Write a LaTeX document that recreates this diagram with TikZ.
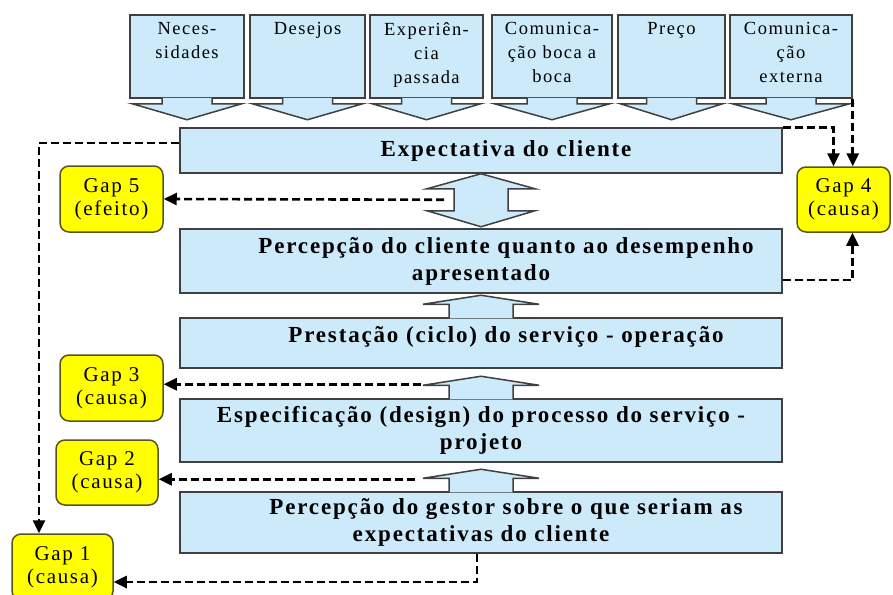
\documentclass[tikz,border=0pt]{standalone}
\usepackage{fontspec}
\setmainfont{Liberation Serif}[LetterSpace=8]
\usepackage{tikz}
\usetikzlibrary{shapes}
\usetikzlibrary{arrows.meta}
\usetikzlibrary{positioning}
\usetikzlibrary{calc}
\definecolor{bleu}{RGB}{204,234,250}
\definecolor{gris}{RGB}{64,64,64}
\definecolor{jaune}{RGB}{255,255,0}
\definecolor{brun}{RGB}{90,84,30}
\tikzstyle{attente}=[
        rectangle,
        draw=gris,
        fill=bleu,
        line width=1.5pt,
        minimum height=83pt,
        inner sep=0pt
]
\tikzstyle{titre}=[anchor=north,align=center,inner sep=0pt,yshift=-8pt,font=\fontsize{18.5}{24}\selectfont]
\tikzstyle{etape}=[rectangle,draw=gris,fill=bleu,line width=1.5pt,minimum width=602pt,align=center,font=\fontsize{23}{27}\selectfont\bfseries]
\tikzstyle{ecart}=[rectangle,rounded corners=9pt,draw=brun,fill=jaune,line width=1.5pt,align=center,inner sep=0pt,font=\fontsize{21}{23}\selectfont]
\tikzstyle{fleche}=[draw=gris,fill=bleu,line width=1.5pt]
\tikzstyle{pointille}=[-{Triangle[length=13pt,width=12pt]},line width=2.6pt,dash pattern=on 8pt off 4pt]
\begin{document}
\begin{tikzpicture}[x=1pt,y=-1pt]
\path[fill=white,use as bounding box] (0,0) rectangle (893,594);
\clip (0,0) rectangle (893,594);
%Entrees
\node[attente,minimum width=114pt,label={[titre]north:{Neces-\\sidades}}] (t1) at (187,56.5) {};
\node[attente,minimum width=115pt,label={[titre]north:{Desejos}}] (t2) at (307.5,56.5) {};
\node[attente,minimum width=113pt,label={[titre]north:{Experiên-\\cia\\passada}}] (t3) at (426.5,56.5) {};
\node[attente,minimum width=120pt,label={[titre]north:{Comunica-\\ção boca a\\boca}}] (t4) at (552,56.5) {};
\node[attente,minimum width=107pt,label={[titre]north:{Preço}}] (t5) at (671.5,56.5) {};
\node[attente,minimum width=122pt,label={[titre]north:{Comunica-\\ção\\externa}}] (t6) at (791,56.5) {};
\filldraw[fleche] ([xshift=-25pt,yshift=1pt]t1.south) -- ([xshift=-25pt,yshift=-5pt]t1.south) -- ([xshift=3pt,yshift=-5pt]t1.south west) -- ([yshift=-21pt]t1.south) -- ([xshift=-3pt,yshift=-5pt]t1.south east) -- ([xshift=25pt,yshift=-5pt]t1.south) -- ([xshift=25pt,yshift=1pt]t1.south);
\filldraw[fleche] ([xshift=-25pt,yshift=1pt]t2.south) -- ([xshift=-25pt,yshift=-5pt]t2.south) -- ([xshift=3pt,yshift=-5pt]t2.south west) -- ([yshift=-21pt]t2.south) -- ([xshift=-3pt,yshift=-5pt]t2.south east) -- ([xshift=25pt,yshift=-5pt]t2.south) -- ([xshift=25pt,yshift=1pt]t2.south);
\filldraw[fleche] ([xshift=-25pt,yshift=1pt]t3.south) -- ([xshift=-25pt,yshift=-5pt]t3.south) -- ([xshift=3pt,yshift=-5pt]t3.south west) -- ([yshift=-21pt]t3.south) -- ([xshift=-3pt,yshift=-5pt]t3.south east) -- ([xshift=25pt,yshift=-5pt]t3.south) -- ([xshift=25pt,yshift=1pt]t3.south);
\filldraw[fleche] ([xshift=-25pt,yshift=1pt]t4.south) -- ([xshift=-25pt,yshift=-5pt]t4.south) -- ([xshift=3pt,yshift=-5pt]t4.south west) -- ([yshift=-21pt]t4.south) -- ([xshift=-3pt,yshift=-5pt]t4.south east) -- ([xshift=25pt,yshift=-5pt]t4.south) -- ([xshift=25pt,yshift=1pt]t4.south);
\filldraw[fleche] ([xshift=-25pt,yshift=1pt]t5.south) -- ([xshift=-25pt,yshift=-5pt]t5.south) -- ([xshift=3pt,yshift=-5pt]t5.south west) -- ([yshift=-21pt]t5.south) -- ([xshift=-3pt,yshift=-5pt]t5.south east) -- ([xshift=25pt,yshift=-5pt]t5.south) -- ([xshift=25pt,yshift=1pt]t5.south);
\filldraw[fleche] ([xshift=-25pt,yshift=1pt]t6.south) -- ([xshift=-25pt,yshift=-5pt]t6.south) -- ([xshift=3pt,yshift=-5pt]t6.south west) -- ([yshift=-21pt]t6.south) -- ([xshift=-3pt,yshift=-5pt]t6.south east) -- ([xshift=25pt,yshift=-5pt]t6.south) -- ([xshift=25pt,yshift=1pt]t6.south);
%Etapes
\node[etape,minimum height=45pt] (E) at (481,150.5) {\hspace*{50pt}Expectativa do cliente};
\node[etape,minimum height=64pt] (P) at (481,261) {\hspace*{50pt}Percepção do cliente quanto ao desempenho\\apresentado};
\node[etape,minimum height=50pt,text depth=17pt] (R) at (481,343) {\hspace*{50pt}Prestação (ciclo) do serviço - operação};
\node[etape,minimum height=63pt] (S) at (481,430.5) {Especificação (design) do processo do serviço -\\projeto};
\node[etape,minimum height=61pt] (G) at (481,522.5) {\hspace*{50pt}Percepção do gestor sobre o que seriam as\\expectativas do cliente};
\filldraw[fleche] (E.south) -- ++(54,15) -- ++(-27,0) -- ++(0,22) -- ++(27,0) -- ++(-54,16) -- ++(-54,-16) -- ++(27,0) -- ++(0,-22) -- ++(-27,0) -- cycle;
\filldraw[fleche] ([xshift=-32pt,yshift=-1pt]R.north) -- ++(0,-14) -- ++(-26,0) -- ++(58,-9) -- ++(58,9) -- ++(-26,0) -- ++(0,14);
\filldraw[fleche] ([xshift=-32pt,yshift=-1pt]S.north) -- ++(0,-14) -- ++(-26,0) -- ++(58,-9) -- ++(58,9) -- ++(-26,0) -- ++(0,14);
\filldraw[fleche] ([xshift=-32pt,yshift=-1pt]G.north) -- ++(0,-14) -- ++(-26,0) -- ++(58,-9) -- ++(58,9) -- ++(-26,0) -- ++(0,14);
%Gaps
\node[ecart,minimum width=103pt,minimum height=66pt] (g5) at (111.5,199) {Gap 5\\(efeito)};
\node[ecart,minimum width=93pt,minimum height=65pt] (g4) at (843.5,199.5) {Gap 4\\(causa)};
\node[ecart,minimum width=103pt,minimum height=66pt] (g3) at (111.5,388) {Gap 3\\(causa)};
\node[ecart,minimum width=102pt,minimum height=65pt] (g2) at (107,472.5) {Gap 2\\(causa)};
\node[ecart,minimum width=101pt,minimum height=66pt] (g1) at (62.5,567) {Gap 1\\(causa)};
%Placement des fleches
\coordinate (d5) at ($(E.south)+(-37,26)$);
\coordinate (d3) at ($(S.north)+(-60,-14)$);
\coordinate (d2) at ($(G.north)+(-66,-12)$);
\draw[pointille] ([yshift=7.5pt]E.west) -| ([xshift=-23.5pt]g1.north);
\draw[pointille] (d5) -- (g5.east);
\draw[pointille] (E.north east) -| ([xshift=-10pt]g4.north);
\draw[pointille] (t6.south east) -- (t6.south east |- g4.north);
\draw[pointille] ([yshift=-19pt]P.east) -| ([xshift=9pt]g4.south);
\draw[pointille] (d3) -- (g3.east |- d3);
\draw[pointille] (d2) -- (g2.east |- d2);
\draw[pointille] ([xshift=-4pt]G.south) |- ([yshift=-15pt]g1.east);
\end{tikzpicture}
\end{document}
